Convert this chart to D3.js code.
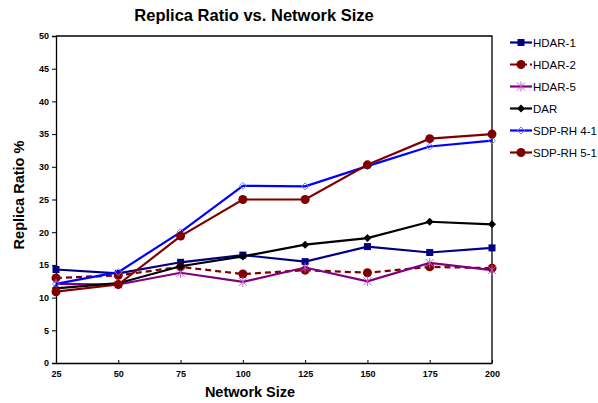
<!DOCTYPE html>
<html>
<head>
<meta charset="utf-8">
<script src="https://cdn.jsdelivr.net/npm/d3@7"></script>
<style>
  html, body { margin: 0; padding: 0; background: #fff; }
  svg { display: block; font-family: Arial, "Liberation Sans", sans-serif; }
</style>
</head>
<body>
<svg id="chart" width="598" height="403"></svg>
<script>
// Network sizes on the x axis
const networkSizes = [25, 50, 75, 100, 125, 150, 175, 200];
const yTicks = [0, 5, 10, 15, 20, 25, 30, 35, 40, 45, 50];

// Replica ratio (%) per scheme
const hdar1   = [14.3, 13.7, 15.4, 16.5, 15.5, 17.8, 16.9, 17.6];
const hdar2   = [13.0, 13.4, 14.7, 13.6, 14.2, 13.8, 14.7, 14.5];
const hdar5   = [12.1, 12.0, 13.8, 12.4, 14.6, 12.5, 15.3, 14.2];
const dar     = [11.4, 12.2, 14.8, 16.3, 18.1, 19.1, 21.6, 21.2];
const sdpRh41 = [12.1, 13.9, 20.0, 27.1, 27.0, 30.1, 33.1, 34.0];
const sdpRh51 = [10.9, 12.0, 19.4, 25.0, 25.0, 30.3, 34.3, 35.0];

const seriesNames = ["HDAR-1", "HDAR-2", "HDAR-5", "DAR", "SDP-RH 4-1", "SDP-RH 5-1"];
const seriesValues = [hdar1, hdar2, hdar5, dar, sdpRh41, sdpRh51];

const styles = {
  "HDAR-1":     { color: "#000080", marker: "square",  dash: null },
  "HDAR-2":     { color: "#800000", marker: "circle",  dash: "6,4" },
  "HDAR-5":     { color: "#800080", marker: "star",    dash: null },
  "DAR":        { color: "#000000", marker: "diamond", dash: null },
  "SDP-RH 4-1": { color: "#0000ff", marker: "odiamond", dash: null },
  "SDP-RH 5-1": { color: "#800000", marker: "circle",  dash: null }
};

const svg = d3.select("#chart");
const plot = { left: 56, right: 492, top: 36, bottom: 363 };

const x = d3.scaleLinear().domain([25, 200]).range([plot.left, plot.right]);
const y = d3.scaleLinear().domain([0, 50]).range([plot.bottom, plot.top]);

// Plot frame (top and right)
svg.append("path")
  .attr("d", `M${plot.left},${plot.top}H${plot.right}V${plot.bottom}`)
  .attr("fill", "none").attr("stroke", "#000").attr("stroke-width", 1.3);

// Y axis
const yAxis = svg.append("g")
  .attr("transform", `translate(${plot.left},0)`)
  .call(d3.axisLeft(y).tickValues(yTicks).tickSize(4).tickPadding(3));
yAxis.select(".domain").attr("stroke-width", 1.3);
yAxis.selectAll("text").attr("font-size", 9).attr("font-weight", "bold")
  .attr("font-family", "Arial, 'Liberation Sans', sans-serif");

// X axis with inward ticks
const xAxis = svg.append("g")
  .attr("transform", `translate(0,${plot.bottom})`)
  .call(d3.axisBottom(x).tickValues(networkSizes).tickSizeInner(-3).tickSizeOuter(0).tickPadding(8));
xAxis.select(".domain").attr("stroke-width", 1.3);
xAxis.selectAll("text").attr("font-size", 9).attr("font-weight", "bold")
  .attr("font-family", "Arial, 'Liberation Sans', sans-serif");

// Marker drawing
function drawMarker(g, kind, color, cx, cy) {
  if (kind === "square") {
    g.append("rect").attr("x", cx - 3.5).attr("y", cy - 3.5).attr("width", 7).attr("height", 7).attr("fill", color);
  } else if (kind === "circle") {
    g.append("circle").attr("cx", cx).attr("cy", cy).attr("r", 4.5).attr("fill", color);
  } else if (kind === "diamond") {
    g.append("path").attr("d", `M${cx},${cy-4}L${cx+4},${cy}L${cx},${cy+4}L${cx-4},${cy}Z`).attr("fill", color);
  } else if (kind === "odiamond") {
    g.append("path").attr("d", `M${cx},${cy-3.5}L${cx+3.5},${cy}L${cx},${cy+3.5}L${cx-3.5},${cy}Z`)
      .attr("fill", "none").attr("stroke", "#6f7fff").attr("stroke-width", 1);
  } else if (kind === "star") {
    const r = 4;
    g.append("path")
      .attr("d", `M${cx-r},${cy-r}L${cx+r},${cy+r}M${cx-r},${cy+r}L${cx+r},${cy-r}M${cx},${cy-r-1}L${cx},${cy+r+1}`)
      .attr("stroke", "#c060c0").attr("stroke-width", 1).attr("fill", "none");
  }
}

const line = d3.line().x((d, i) => x(networkSizes[i])).y(d => y(d));

seriesNames.forEach((name, si) => {
  const st = styles[name];
  const vals = seriesValues[si];
  const g = svg.append("g");
  g.append("path").datum(vals).attr("d", line)
    .attr("fill", "none").attr("stroke", st.color).attr("stroke-width", 2.2)
    .attr("stroke-dasharray", st.dash);
  vals.forEach((v, i) => drawMarker(g, st.marker, st.color, x(networkSizes[i]), y(v)));
});

// Legend
const legend = svg.append("g");
seriesNames.forEach((name, i) => {
  const st = styles[name];
  const ly = 42.5 + i * 22;
  const lg = legend.append("g");
  lg.append("line").attr("x1", 510).attr("x2", 532).attr("y1", ly).attr("y2", ly)
    .attr("stroke", st.color).attr("stroke-width", 2.2).attr("stroke-dasharray", st.dash ? "7,3" : null);
  drawMarker(lg, st.marker, st.color, 521, ly);
  lg.append("text").attr("x", 533).attr("y", ly + 4.2).attr("font-size", 11.5).text(name);
});

// Title and axis titles
svg.append("text").attr("x", 254).attr("y", 21).attr("text-anchor", "middle")
  .attr("font-size", 16.5).attr("font-weight", "bold").text("Replica Ratio vs. Network Size");
svg.append("text").attr("x", 250).attr("y", 397).attr("text-anchor", "middle")
  .attr("font-size", 14.5).attr("font-weight", "bold").text("Network Size");
svg.append("text").attr("transform", "translate(24,195) rotate(-90)").attr("text-anchor", "middle")
  .attr("font-size", 14.5).attr("font-weight", "bold").text("Replica Ratio %");
</script>
</body>
</html>
